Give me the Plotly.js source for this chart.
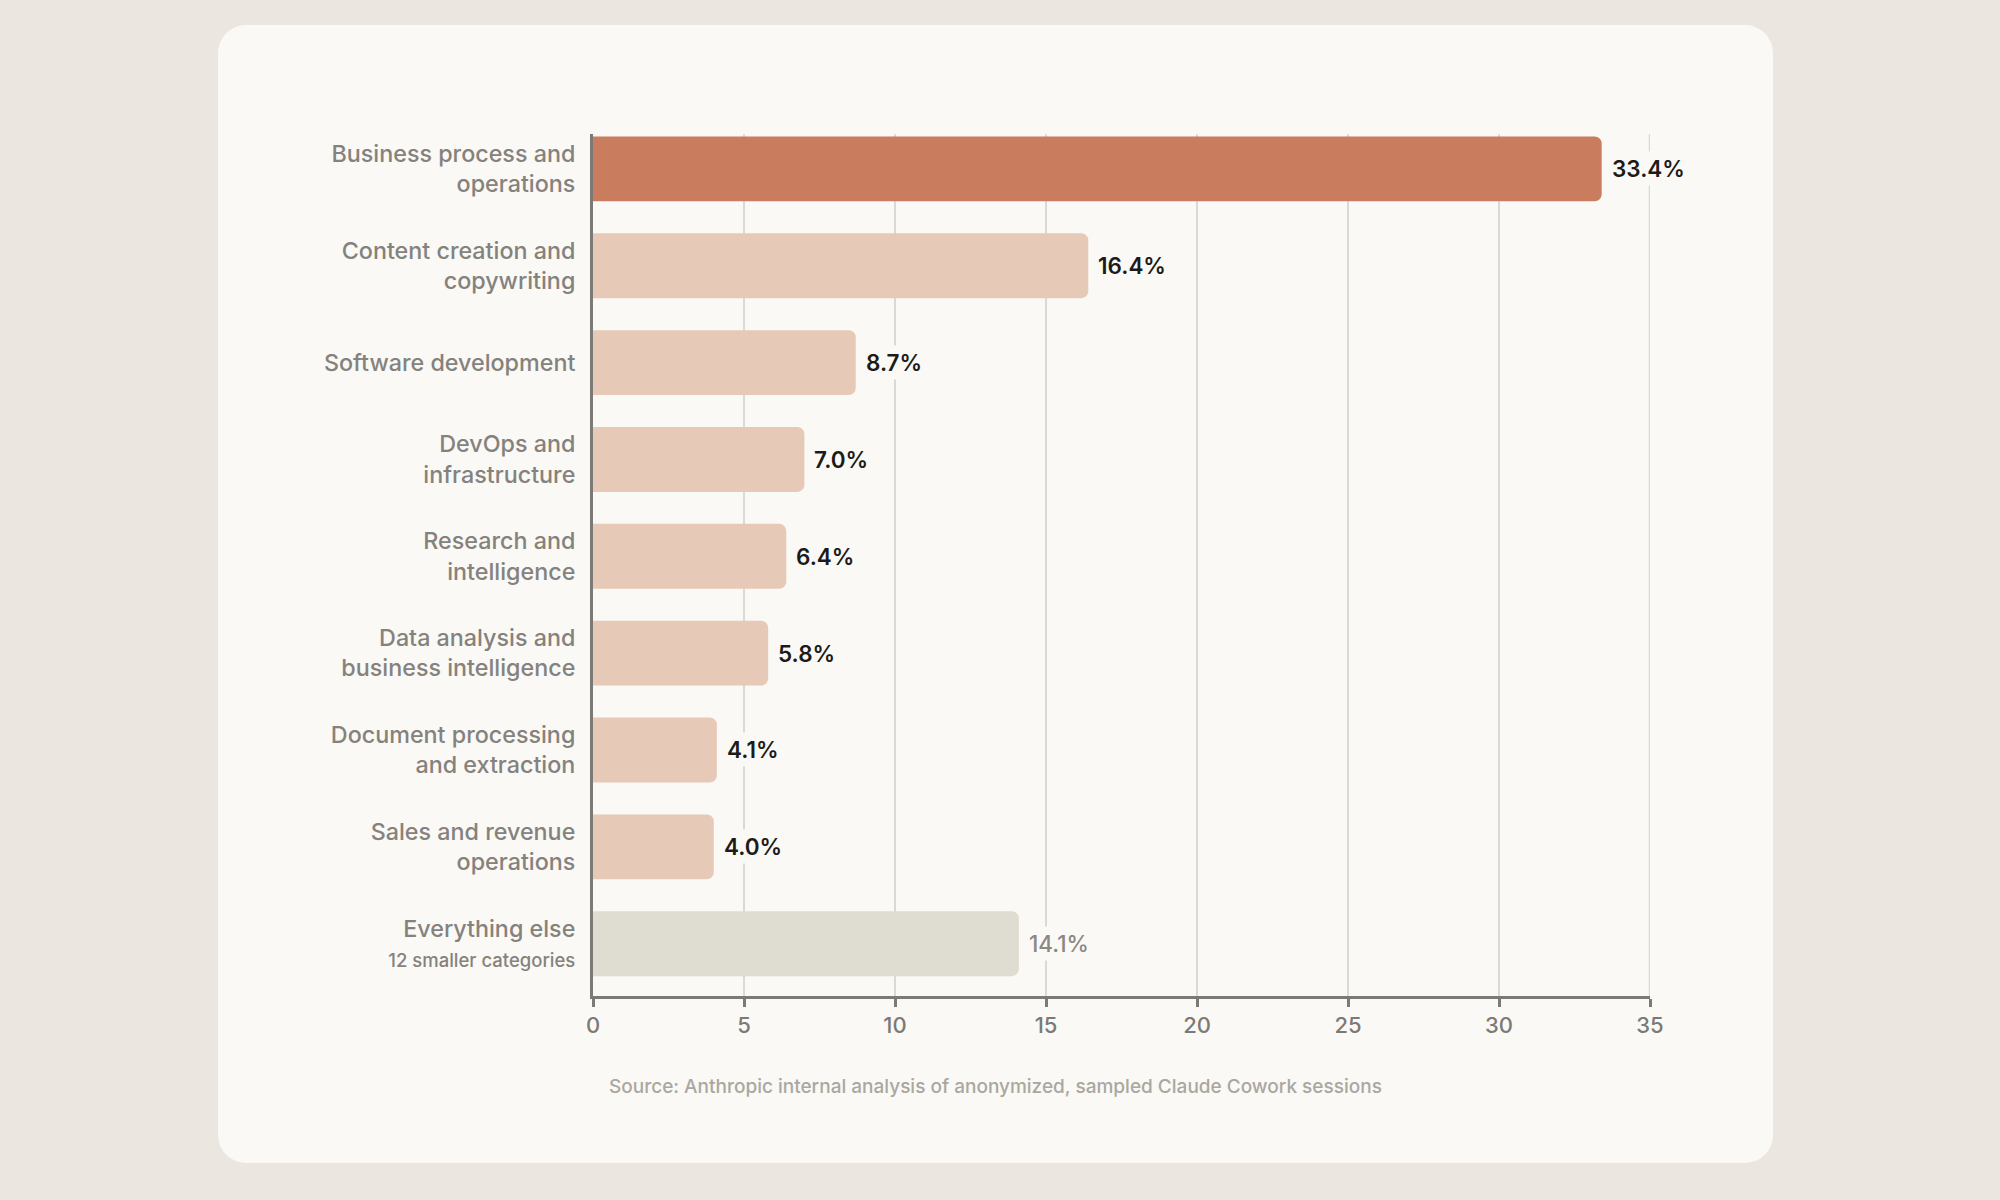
<!DOCTYPE html>
<html>
<head>
<meta charset="utf-8">
<script src="https://cdn.plot.ly/plotly-3.0.1.min.js"></script>
<style>
  html, body { margin: 0; padding: 0; width: 2000px; height: 1200px; background: #ebe7e0; overflow: hidden; }
  #card { position: absolute; left: 218px; top: 25px; width: 1555px; height: 1138px; background: #faf9f5; border-radius: 28px; }
  #chart { position: absolute; left: 0; top: 0; width: 2000px; height: 1200px; }
</style>
</head>
<body>
<div id="card"></div>
<div id="chart"></div>
<script>
const categories = [
  "Business process and<br>operations",
  "Content creation and<br>copywriting",
  "Software development",
  "DevOps and<br>infrastructure",
  "Research and<br>intelligence",
  "Data analysis and<br>business intelligence",
  "Document processing<br>and extraction",
  "Sales and revenue<br>operations",
  "Everything else<br><span style=\"font-size:18.5px\">12 smaller categories</span>"
];
const values = [33.4, 16.4, 8.7, 7.0, 6.4, 5.8, 4.1, 4.0, 14.1];
const barColors = ["#c97c5e", "#e6cab7", "#e6cab7", "#e6cab7", "#e6cab7", "#e6cab7", "#e6cab7", "#e6cab7", "#dfdcd1"];
const labelColors = ["#1c1b19", "#1c1b19", "#1c1b19", "#1c1b19", "#1c1b19", "#1c1b19", "#1c1b19", "#1c1b19", "#8b8882"];
const xTicks = [0, 5, 10, 15, 20, 25, 30, 35];
const sourceText = "Source: Anthropic internal analysis of anonymized, sampled Claude Cowork sessions";

const FONT = "Inter, 'Noto Sans', sans-serif";
const CARD = "#faf9f5";
const GRID = "#dcd9d2";

const trace = {
  type: "bar",
  orientation: "h",
  x: values,
  y: categories,
  marker: { color: barColors, cornerradius: 7, line: { width: 0 } },
  width: 0.67,
  hoverinfo: "skip"
};

const annotations = values.map((v, i) => ({
  x: v, y: categories[i], xref: "x", yref: "y",
  text: v.toFixed(1) + "%",
  showarrow: false, xanchor: "left", yanchor: "middle",
  xshift: 6,
  bgcolor: CARD, borderpad: 3,
  font: { family: FONT, size: 22.5, color: labelColors[i], weight: i < 8 ? 600 : 500 }
}));

annotations.push({
  xref: "paper", yref: "paper",
  x: (995 - 593) / (1650 - 593), y: -(1087 - 996) / (996 - 133),
  text: sourceText, showarrow: false, xanchor: "center", yanchor: "middle",
  font: { family: FONT, size: 19, color: "#aaa7a0", weight: 500 }
});

// gridline at the right end of the axis range (Plotly omits grid at range edge)
const shapes = [{
  type: "line", layer: "below",
  xref: "x", yref: "paper",
  x0: xTicks[xTicks.length - 1], x1: xTicks[xTicks.length - 1], y0: 0, y1: 1,
  line: { color: GRID, width: 2.5 }
}];

const layout = {
  width: 2000, height: 1200,
  paper_bgcolor: "rgba(0,0,0,0)",
  plot_bgcolor: "rgba(0,0,0,0)",
  margin: { l: 593, r: 350, t: 134, b: 204 },
  showlegend: false,
  font: { family: FONT },
  xaxis: {
    range: [0, 35],
    tickvals: xTicks,
    ticktext: xTicks.map(String),
    showgrid: true, gridcolor: GRID, gridwidth: 2.5,
    zeroline: false,
    showline: true, linecolor: "#7c7a76", linewidth: 3,
    ticks: "outside", ticklen: 8, tickwidth: 3, tickcolor: "#7c7a76",
    tickfont: { family: FONT, size: 22, color: "#7c7a76", weight: 500 },
    fixedrange: true
  },
  yaxis: {
    type: "category",
    range: [8.54, -0.36],
    showgrid: false, zeroline: false,
    showline: true, linecolor: "#7c7a76", linewidth: 3,
    ticks: "", ticklabelstandoff: 10,
    tickfont: { family: FONT, size: 23.3, color: "#85827d", weight: 500 },
    fixedrange: true
  },
  shapes: shapes,
  annotations: annotations
};

Plotly.newPlot("chart", [trace], layout, { staticPlot: true, displayModeBar: false });
</script>
</body>
</html>
